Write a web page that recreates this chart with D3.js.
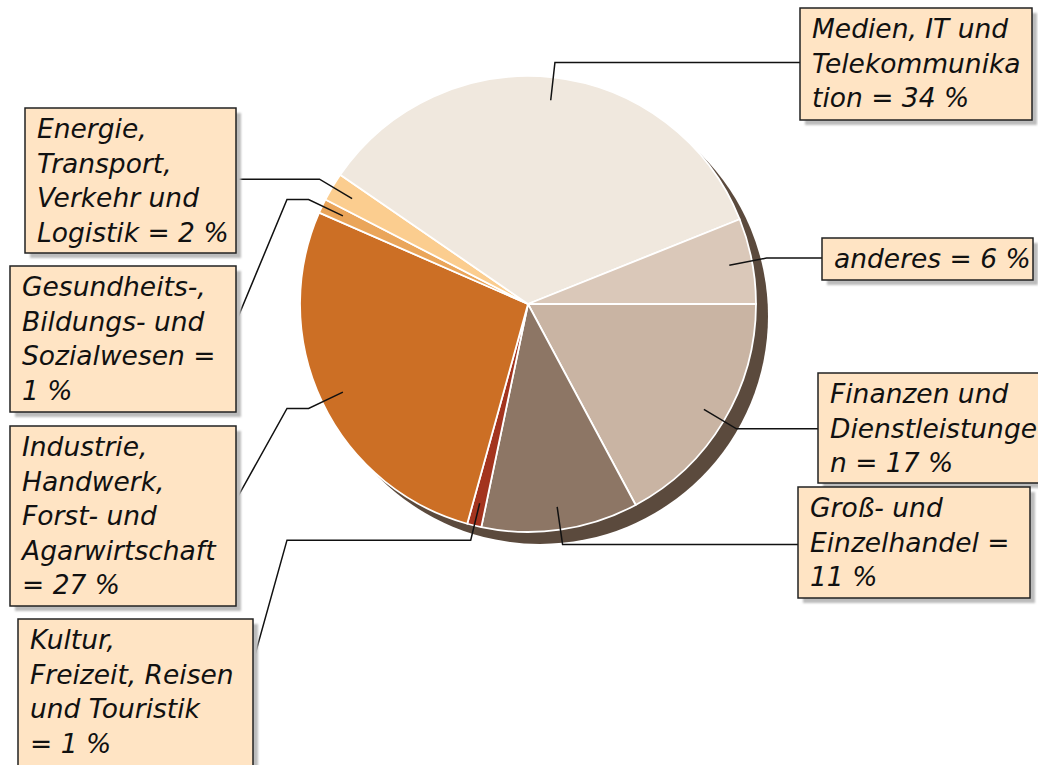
<!DOCTYPE html>
<html>
<head>
<meta charset="utf-8">
<script src="https://cdn.jsdelivr.net/npm/d3@7"></script>
<style>
  html, body { margin: 0; padding: 0; background: #fff; }
  svg { display: block; }
  text { font-family: "DejaVu Sans", sans-serif; font-style: italic; }
</style>
</head>
<body>
<svg id="chart" width="1038" height="765"></svg>
<script>
// ---- data ----
const categories = [
  "Finanzen und Dienstleistungen",
  "Groß- und Einzelhandel",
  "Kultur, Freizeit, Reisen und Touristik",
  "Industrie, Handwerk, Forst- und Agarwirtschaft",
  "Gesundheits-, Bildungs- und Sozialwesen",
  "Energie, Transport, Verkehr und Logistik",
  "Medien, IT und Telekommunikation",
  "anderes"
];
const values = [17, 11, 1, 27, 1, 2, 34, 6];
const labelLines = [
  ["Finanzen und", "Dienstleistunge", "n = 17 %"],
  ["Groß- und", "Einzelhandel =", "11 %"],
  ["Kultur,", "Freizeit, Reisen", "und Touristik", "= 1 %"],
  ["Industrie,", "Handwerk,", "Forst- und", "Agarwirtschaft", "= 27 %"],
  ["Gesundheits-,", "Bildungs- und", "Sozialwesen =", "1 %"],
  ["Energie,", "Transport,", "Verkehr und", "Logistik = 2 %"],
  ["Medien, IT und", "Telekommunika", "tion = 34 %"],
  ["anderes = 6 %"]
];
const colors = ["#c9b4a3", "#8d7665", "#a3341e", "#cc6f25", "#eaa55a", "#fbcd8f", "#f0e8de", "#dac8b9"];

// ---- layout (label boxes: x, y, w, h, attach side, optional bend x) ----
const boxes = [
  {x: 818, y: 373, w: 230, h: 110, side: "left"},
  {x: 798, y: 487, w: 232, h: 111, side: "left"},
  {x: 18,  y: 619, w: 235, h: 150, side: "right", bendX: 287, attachY: 662},
  {x: 10,  y: 426, w: 226, h: 180, side: "right", bendX: 287, attachY: 500},
  {x: 10,  y: 266, w: 226, h: 146, side: "right", bendX: 287, attachY: 322},
  {x: 25,  y: 108, w: 211, h: 145, side: "right"},
  {x: 800, y: 8,   w: 232, h: 112, side: "left"},
  {x: 822, y: 238, w: 211, h: 42,  side: "left"}
];

const svg = d3.select("#chart");
const cx = 528, cy = 304, R = 228;

const defs = svg.append("defs");
const f = defs.append("filter").attr("id", "boxShadow").attr("x", "-10%").attr("y", "-10%").attr("width", "130%").attr("height", "130%");
f.append("feGaussianBlur").attr("stdDeviation", 1.2);

const pie = d3.pie().sort(null).value(d => d).startAngle(Math.PI / 2).endAngle(Math.PI / 2 + 2 * Math.PI);
const arcs = pie(values);
const arc = d3.arc().innerRadius(0).outerRadius(R);

// shadow of the pie
svg.append("circle").attr("cx", cx + 12).attr("cy", cy + 12).attr("r", R).attr("fill", "#5b4a3d");

const g = svg.append("g").attr("transform", `translate(${cx},${cy})`);
g.selectAll("path.slice").data(arcs).join("path")
  .attr("class", "slice")
  .attr("d", arc)
  .attr("fill", (d, i) => colors[i])
  .attr("stroke", "#ffffff")
  .attr("stroke-width", 1.8)
  .attr("stroke-linejoin", "round");

// leader lines
function polar(a, r) { return [cx + r * Math.sin(a), cy - r * Math.cos(a)]; }
const lineGen = d3.line();
arcs.forEach((d, i) => {
  const mid = (d.startAngle + d.endAngle) / 2;
  const p0 = polar(mid, 205);
  const p1 = polar(mid, 243);
  const b = boxes[i];
  let pts;
  if (b.side === "left") {
    pts = [p0, p1, [b.x, p1[1]]];
  } else if (b.bendX !== undefined) {
    pts = [p0, p1, [b.bendX, p1[1]], [b.x + b.w, b.attachY]];
  } else {
    pts = [p0, p1, [b.x + b.w, p1[1]]];
  }
  svg.append("path").attr("d", lineGen(pts))
    .attr("fill", "none").attr("stroke", "#111").attr("stroke-width", 1.5);
});

// label boxes
const lg = svg.selectAll("g.lbl").data(boxes).join("g").attr("class", "lbl");
lg.append("rect")
  .attr("x", b => b.x + 5).attr("y", b => b.y + 5)
  .attr("width", b => b.w).attr("height", b => b.h)
  .attr("fill", "#bcbcbc").attr("filter", "url(#boxShadow)");
lg.append("rect")
  .attr("x", b => b.x).attr("y", b => b.y)
  .attr("width", b => b.w).attr("height", b => b.h)
  .attr("fill", "#ffe4c4").attr("stroke", "#222").attr("stroke-width", 1.5);
lg.each(function(b, i) {
  const t = d3.select(this).append("text")
    .attr("font-size", 26.5).attr("fill", "#111");
  labelLines[i].forEach((ln, k) => {
    t.append("tspan").attr("x", b.x + 12).attr("y", b.y + 30 + k * 34.5).text(ln);
  });
});
</script>
</body>
</html>
